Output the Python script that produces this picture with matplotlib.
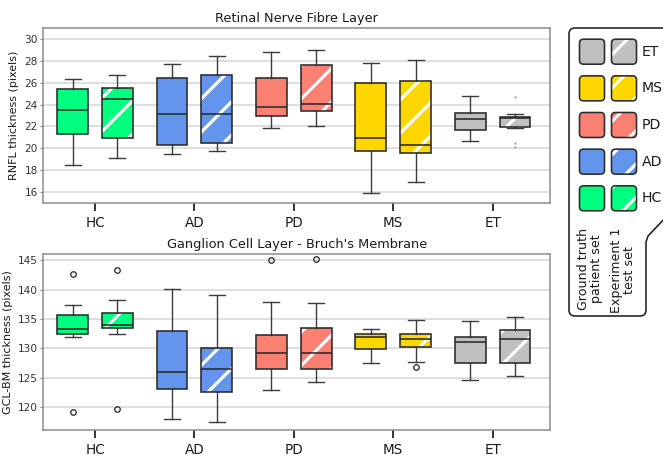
import matplotlib
matplotlib.use('Agg')
import matplotlib.pyplot as plt
from matplotlib.patches import PathPatch, FancyBboxPatch
from matplotlib.path import Path
from matplotlib.transforms import Affine2D
import numpy as np

DPI = 200
W, H = 663, 457


def px(v):
    return v * 72.0 / DPI


plt.rcParams['font.family'] = ['DejaVu Sans']
plt.rcParams['hatch.linewidth'] = px(3.2)

categories = ['HC', 'AD', 'PD', 'MS', 'ET']
colors = ['#00FF7F', '#6495ED', '#FA8072', '#FFD700', '#C0C0C0']

# box stats per category: [whisker low, Q1, median, Q3, whisker high]
rnfl_gt_stats = [[18.49, 21.27, 23.52, 25.40, 26.31],
                 [19.52, 20.31, 23.13, 26.43, 27.67],
                 [21.85, 22.94, 23.82, 26.43, 28.82],
                 [15.91, 19.76, 20.97, 25.95, 27.76],
                 [20.67, 21.67, 22.67, 23.22, 24.82]]
rnfl_exp_stats = [[19.15, 20.91, 24.49, 25.55, 26.73],
                  [19.73, 20.45, 23.16, 26.67, 28.40],
                  [22.03, 23.43, 24.09, 27.58, 29.03],
                  [16.95, 19.55, 20.31, 26.18, 28.09],
                  [21.85, 21.91, 22.76, 22.88, 23.13]]
rnfl_gt_fliers = [[], [], [], [], []]
rnfl_exp_fliers = [[], [], [], [], [24.67, 20.49, 20.09]]

gcl_gt_stats = [[131.96, 132.40, 133.20, 135.60, 137.40],
                [117.96, 123.10, 126.00, 132.98, 140.10],
                [122.90, 126.50, 129.24, 132.30, 137.90],
                [127.50, 129.80, 131.90, 132.40, 133.30],
                [124.60, 127.43, 131.00, 131.96, 134.68]]
gcl_exp_stats = [[132.47, 133.44, 134.00, 135.93, 138.20],
                 [117.33, 122.50, 126.40, 129.98, 139.00],
                 [124.25, 126.50, 129.18, 133.44, 137.74],
                 [127.60, 130.15, 131.56, 132.47, 134.74],
                 [125.32, 127.43, 131.50, 133.04, 135.30]]
gcl_gt_fliers = [[142.67, 119.15], [], [145.00], [], []]
gcl_exp_fliers = [[143.35, 119.60], [], [145.17], [126.75], []]

rnfl_yticks = [16, 18, 20, 22, 24, 26, 28, 30]
gcl_yticks = [120, 125, 130, 135, 140, 145]

EDGE = '#2a2a2a'
WHISK = '#3c3c3c'
SPINE = '#8a8a8a'
GRID = '#d8d8d8'
HATCH = '//'

fig = plt.figure(figsize=(W / DPI, H / DPI), dpi=DPI)
ax1 = fig.add_axes([43.3 / W, 1 - 203 / H, (550.3 - 43.3) / W, (203 - 28) / H])
ax2 = fig.add_axes([43.3 / W, 1 - 430.3 / H, (550.3 - 43.3) / W, (430.3 - 254.3) / H])


def draw_group(ax, stats, fliers, offset, hatch, small_fliers=False):
    bstats = [dict(whislo=s[0], q1=s[1], med=s[2], q3=s[3], whishi=s[4], fliers=f)
              for s, f in zip(stats, fliers)]
    pos = np.arange(len(categories)) + offset
    if small_fliers:
        fp = dict(marker='o', markersize=px(2.2), markerfacecolor='#9a9a9a',
                  markeredgecolor='#9a9a9a', markeredgewidth=0, linestyle='none')
    else:
        fp = dict(marker='o', markersize=px(5.5), markerfacecolor='none',
                  markeredgecolor=EDGE, markeredgewidth=px(1.3), linestyle='none')
    res = ax.bxp(bstats, positions=pos, widths=0.31, capwidths=0.16,
                 patch_artist=True, showfliers=True,
                 boxprops=dict(linewidth=0),
                 medianprops=dict(color=EDGE, linewidth=px(1.6)),
                 whiskerprops=dict(color=WHISK, linewidth=px(1.4)),
                 capprops=dict(color=WHISK, linewidth=px(1.4)),
                 flierprops=fp, manage_ticks=False)
    for patch, c in zip(res['boxes'], colors):
        patch.set_facecolor(c)
        patch.set_edgecolor('white' if hatch else c)
        patch.set_linewidth(0)
        if hatch:
            patch.set_hatch(hatch)
        outline = PathPatch(patch.get_path(), transform=patch.get_transform(),
                            fill=False, edgecolor=EDGE, linewidth=px(1.6),
                            zorder=patch.get_zorder() + 0.05)
        ax.add_patch(outline)


def style_axes(ax, ylim, yticks, title):
    ax.set_xlim(-0.52, 4.58)
    ax.set_ylim(*ylim)
    ax.set_yticks(yticks)
    ax.set_xticks(np.arange(len(categories)))
    ax.set_xticklabels(categories)
    ax.set_axisbelow(True)
    ax.yaxis.grid(True, color=GRID, linewidth=px(1.6))
    for s in ax.spines.values():
        s.set_color(SPINE)
        s.set_linewidth(px(1.5))
    ax.tick_params(axis='x', length=px(8), width=px(1.8), color='#222222',
                   labelsize=px(13.5), pad=px(5), labelcolor='#1a1a1a')
    ax.tick_params(axis='y', length=px(3), width=px(1.2), color=SPINE,
                   labelsize=px(10.5), pad=px(2.5), labelcolor='#333333')
    ax.set_title(title, fontsize=px(12.9), pad=px(6), color='#1a1a1a')


draw_group(ax1, rnfl_gt_stats, rnfl_gt_fliers, -0.225, None)
draw_group(ax1, rnfl_exp_stats, rnfl_exp_fliers, 0.225, HATCH, small_fliers=True)
style_axes(ax1, (15, 31), rnfl_yticks, 'Retinal Nerve Fibre Layer')
ax1.set_ylabel('RNFL thickness (pixels)', fontsize=px(11.1), labelpad=px(5), color='#1a1a1a')

draw_group(ax2, gcl_gt_stats, gcl_gt_fliers, -0.225, None)
draw_group(ax2, gcl_exp_stats, gcl_exp_fliers, 0.225, HATCH)
style_axes(ax2, (116, 146), gcl_yticks, "Ganglion Cell Layer - Bruch's Membrane")
ax2.set_ylabel('GCL-BM thickness (pixels)', fontsize=px(11.1), labelpad=px(5), color='#1a1a1a')

# ---- custom legend (pixel coordinates, y down) ----
T = Affine2D().scale(1.0 / W, -1.0 / H).translate(0, 1) + fig.transFigure
r = 6
verts = [(569 + r, 28), (690, 28), (690, 192), (648, 236), (646, 242),
         (646, 316 - r), (646, 316), (646 - r, 316), (569 + r, 316),
         (569, 316), (569, 316 - r), (569, 28 + r), (569, 28), (569 + r, 28)]
codes = [Path.MOVETO, Path.LINETO, Path.LINETO, Path.LINETO, Path.LINETO,
         Path.LINETO, Path.CURVE3, Path.CURVE3, Path.LINETO,
         Path.CURVE3, Path.CURVE3, Path.LINETO, Path.CURVE3, Path.CURVE3]
frame = PathPatch(Path(verts, codes), transform=T, facecolor='white',
                  edgecolor='#222222', linewidth=px(1.6), clip_on=False)
fig.add_artist(frame)

leg_order = list(range(len(categories)))[::-1]
for i, ci in enumerate(leg_order):
    yc = 51.7 + i * 36.65
    for x0, hatch in [(579.5, None), (611.5, HATCH)]:
        sq = FancyBboxPatch((x0 + 3, yc - 12.5 + 3), 19, 19,
                            boxstyle='round,pad=3,rounding_size=4',
                            transform=T, facecolor=colors[ci],
                            edgecolor='white' if hatch else colors[ci],
                            linewidth=0, clip_on=False)
        if hatch:
            sq.set_hatch(hatch)
        fig.add_artist(sq)
        ol = FancyBboxPatch((x0 + 3, yc - 12.5 + 3), 19, 19,
                            boxstyle='round,pad=3,rounding_size=4',
                            transform=T, fill=False, edgecolor=EDGE,
                            linewidth=px(1.6), clip_on=False)
        fig.add_artist(ol)
    fig.text(641.5, yc, categories[ci], transform=T, fontsize=px(14),
             va='center', ha='left', color='#1a1a1a')

fig.text(590, 269, 'Ground truth\npatient set', transform=T, rotation=90,
         ha='center', va='center', multialignment='center',
         fontsize=px(12.6), linespacing=0.92, color='#1a1a1a')
fig.text(623, 270, 'Experiment 1\ntest set', transform=T, rotation=90,
         ha='center', va='center', multialignment='center',
         fontsize=px(12.6), linespacing=0.92, color='#1a1a1a')

fig.savefig('out.png', dpi=DPI)
